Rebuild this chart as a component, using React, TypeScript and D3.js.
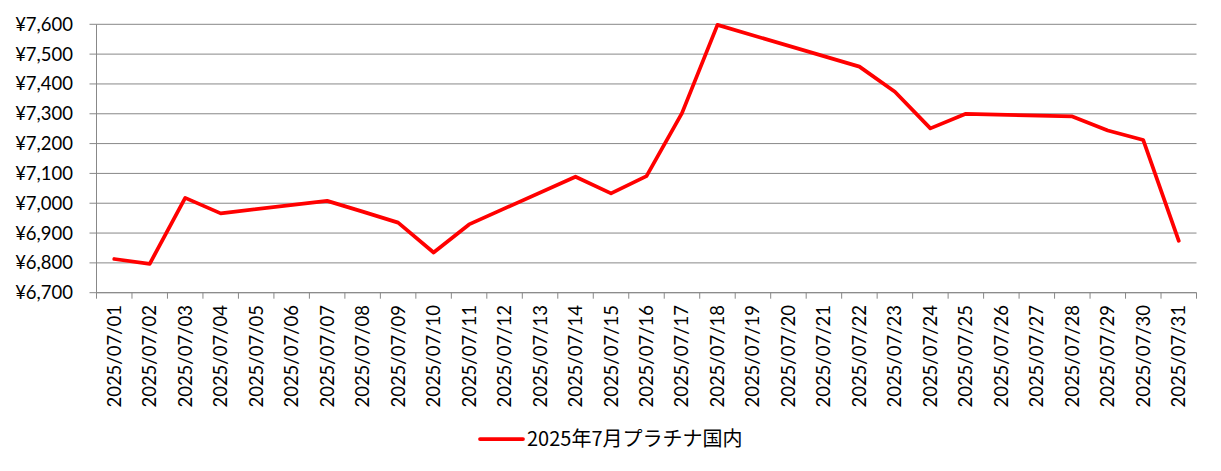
import * as d3 from 'd3';

const dates = [
  '2025/07/01', '2025/07/02', '2025/07/03', '2025/07/04', '2025/07/05', '2025/07/06',
  '2025/07/07', '2025/07/08', '2025/07/09', '2025/07/10', '2025/07/11', '2025/07/12',
  '2025/07/13', '2025/07/14', '2025/07/15', '2025/07/16', '2025/07/17', '2025/07/18',
  '2025/07/19', '2025/07/20', '2025/07/21', '2025/07/22', '2025/07/23', '2025/07/24',
  '2025/07/25', '2025/07/26', '2025/07/27', '2025/07/28', '2025/07/29', '2025/07/30',
  '2025/07/31',
];

// no price on weekends / holidays: the line just connects across them
const prices: (number | null)[] = [
  6813, 6797, 7018, 6966, null, null,
  7008, 6972, 6935, 6835, 6929, null,
  null, 7089, 7033, 7091, 7302, 7598,
  null, null, null, 7458, 7374, 7251,
  7300, null, null, 7291, 7244, 7212,
  6874,
];

const yTicks = [6700, 6800, 6900, 7000, 7100, 7200, 7300, 7400, 7500, 7600];
const seriesName = '2025年7月プラチナ国内';

const W = 1221;
const H = 471;
const plot = { left: 96.5, right: 1196.5, top: 24.3, bottom: 292.7 };
const font = 'Lato, "Open Sans", sans-serif';
const gridColor = '#888888';
const lineColor = '#ff0000';

const App = () => {
  const x = d3.scaleBand<string>().domain(dates).range([plot.left, plot.right]).padding(0);
  const y = d3.scaleLinear().domain([6700, 7600]).range([plot.bottom, plot.top]);
  const cx = (d: string) => (x(d) ?? 0) + x.bandwidth() / 2;

  const points = dates
    .map((d, i) => ({ d, v: prices[i] }))
    .filter(p => p.v !== null) as { d: string; v: number }[];

  const line = d3.line<{ d: string; v: number }>()
    .x(p => cx(p.d))
    .y(p => y(p.v));

  const yFmt = (v: number) => '¥' + d3.format(',')(v);
  const boundaries = [...dates.map(d => x(d) ?? 0), plot.right];

  return (
    <svg width={W} height={H} style={{ position: 'absolute', left: 0, top: 0 }}>
      <rect width={W} height={H} fill="#fff" />

      {/* horizontal gridlines + left ticks */}
      {yTicks.map(t => (
        <g key={t}>
          <line x1={plot.left} x2={plot.right} y1={y(t)} y2={y(t)} stroke={gridColor} strokeWidth={1} />
          <line x1={plot.left - 7} x2={plot.left} y1={y(t)} y2={y(t)} stroke={gridColor} strokeWidth={1} />
          <text x={73} y={y(t)} dy="0.35em" textAnchor="end" fontFamily={font} fontSize={18.5} fill="#000">
            {yFmt(t)}
          </text>
        </g>
      ))}

      {/* axis lines */}
      <line x1={plot.left} x2={plot.left} y1={plot.top} y2={plot.bottom} stroke={gridColor} strokeWidth={1} />
      <line x1={plot.left} x2={plot.right} y1={plot.bottom} y2={plot.bottom} stroke={gridColor} strokeWidth={1} />

      {/* bottom ticks between categories */}
      {boundaries.map((bx, i) => (
        <line key={i} x1={bx} x2={bx} y1={plot.bottom} y2={plot.bottom + 6} stroke={gridColor} strokeWidth={1} />
      ))}

      {/* category labels, rotated */}
      {dates.map(d => (
        <text
          key={d}
          transform={`translate(${cx(d)},305) rotate(-90)`}
          dy="0.35em"
          textAnchor="end"
          fontFamily={font}
          fontSize={18.5}
          fill="#000"
        >
          {d}
        </text>
      ))}

      <path d={line(points) ?? ''} fill="none" stroke={lineColor} strokeWidth={3.75} strokeLinejoin="round" strokeLinecap="round" />

      {/* legend */}
      <line x1={480} x2={523} y1={439} y2={439} stroke={lineColor} strokeWidth={3.75} strokeLinecap="round" />
      <text x={527} y={439} dy="0.36em" fontFamily='"Noto Sans CJK JP", sans-serif' fontSize={20} fill="#000">
        {seriesName}
      </text>
    </svg>
  );
};

export default App;
